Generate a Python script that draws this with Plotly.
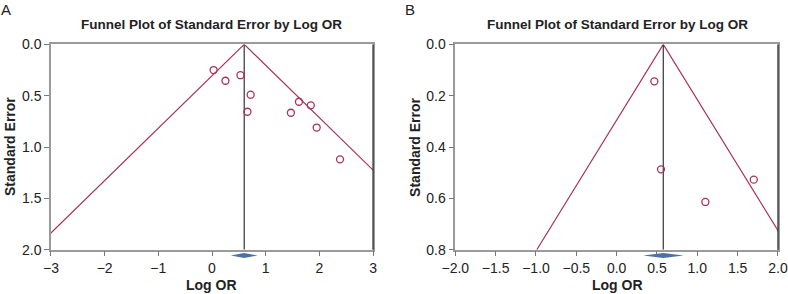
import plotly.graph_objects as go

# ---- data ----
A_logor = [0.03, 0.25, 0.53, 0.72, 0.66, 1.47, 1.62, 1.84, 1.95, 2.385]
A_se = [0.25, 0.354, 0.30, 0.49, 0.656, 0.666, 0.559, 0.594, 0.81, 1.12]
A_est = 0.60
A_ci = [0.35, 0.85]
A_xticks = [-3, -2, -1, 0, 1, 2, 3]
A_yticks = [0.0, 0.5, 1.0, 1.5, 2.0]

B_logor = [0.467, 0.55, 1.10, 1.70]
B_se = [0.144, 0.487, 0.614, 0.527]
B_est = 0.578
B_ci = [0.33, 0.83]
B_xticks = [-2.0, -1.5, -1.0, -0.5, 0.0, 0.5, 1.0, 1.5, 2.0]
B_yticks = [0.0, 0.2, 0.4, 0.6, 0.8]

MAROON = "#a8325a"
DIAMOND = "#4a72a8"
DARK = "#333333"
GRAY = "#9a9a9a"
FONT = "Liberation Sans"

fig = go.Figure()

panels = [
    ("x", "y", A_logor, A_se, A_est, A_ci, A_xticks, A_yticks, ".0f", [0.0647, 0.4734]),
    ("x2", "y2", B_logor, B_se, B_est, B_ci, B_xticks, B_yticks, ".1f", [0.5778, 0.9873]),
]

for xa, ya, lo, se, est, ci, xt, yt, xfmt, dom in panels:
    ymax = max(yt)
    # funnel
    fig.add_trace(go.Scatter(
        x=[est - 1.96 * ymax, est, est + 1.96 * ymax], y=[ymax, 0, ymax],
        mode="lines", line=dict(color=MAROON, width=1.2),
        xaxis=xa, yaxis=ya, showlegend=False, hoverinfo="skip"))
    # center line
    fig.add_trace(go.Scatter(
        x=[est, est], y=[0, ymax], mode="lines",
        line=dict(color=DARK, width=1.2),
        xaxis=xa, yaxis=ya, showlegend=False, hoverinfo="skip"))
    # studies
    fig.add_trace(go.Scatter(
        x=lo, y=se, mode="markers",
        marker=dict(symbol="circle-open", size=7, color=MAROON, line=dict(width=1.3, color=MAROON)),
        xaxis=xa, yaxis=ya, showlegend=False))
    # summary diamond below the axis
    yc, hh = -0.028, 0.012
    path = (f"M {ci[0]},{yc} L {est},{yc - hh} L {ci[1]},{yc} "
            f"L {est},{yc + hh} Z")
    fig.add_shape(type="path", path=path, xref=xa, yref=f"{ya} domain",
                  fillcolor=DIAMOND, line=dict(width=0), layer="above")
    # right frame line (dark)
    fig.add_shape(type="line", xref=f"{xa} domain", yref=f"{ya} domain",
                  x0=1, x1=1, y0=0, y1=1, line=dict(color=DARK, width=1.3))

axis_common = dict(showgrid=False, zeroline=False, showline=True, linecolor=GRAY,
                   linewidth=1.5, ticks="outside", ticklen=5, tickcolor="#777777",
                   tickwidth=1, automargin=False,
                   tickfont=dict(family=FONT, size=14, color="#222222"))

fig.update_layout(
    template="none",
    width=788, height=294, margin=dict(l=0, r=0, t=0, b=0, pad=0),
    paper_bgcolor="white", plot_bgcolor="white",
    xaxis=dict(domain=panels[0][9], range=[-3, 3], tickvals=A_xticks, tickformat=".0f",
               anchor="y", mirror=True, **axis_common),
    yaxis=dict(domain=[0.1507, 0.849], range=[2.0, 0.0], tickvals=A_yticks, tickformat=".1f",
               anchor="x", mirror=True, **axis_common),
    xaxis2=dict(domain=panels[1][9], range=[-2, 2], tickvals=B_xticks, tickformat=".1f",
                anchor="y2", mirror=True, **axis_common),
    yaxis2=dict(domain=[0.1507, 0.849], range=[0.8, 0.0], tickvals=B_yticks, tickformat=".1f",
                anchor="x2", mirror=True, **axis_common),
)

bold = dict(family=FONT, size=13.5, color="#222222")
ann = []
for letter, lx, cx, ylx in [("A", 0.008, 0.2690, 0.0127), ("B", 0.5203, 0.7830, 0.5265)]:
    ann.append(dict(text=letter, x=lx, y=0.966, xref="paper", yref="paper",
                    showarrow=False, xanchor="center", yanchor="middle",
                    font=dict(family=FONT, size=15, color="#222222")))
    ann.append(dict(text="<b>Funnel Plot of Standard Error by Log OR</b>", x=cx, y=0.915,
                    xref="paper", yref="paper", showarrow=False,
                    xanchor="center", yanchor="middle", font=bold))
    ann.append(dict(text="<b>Log OR</b>", x=cx, y=0.032, xref="paper", yref="paper",
                    showarrow=False, xanchor="center", yanchor="middle", font=dict(bold, size=14)))
    ann.append(dict(text="<b>Standard Error</b>", x=ylx, y=0.50, xref="paper", yref="paper",
                    showarrow=False, xanchor="center", yanchor="middle", textangle=-90,
                    font=dict(bold, size=14)))
fig.update_layout(annotations=ann)

fig.write_html("out.html", config={"displayModeBar": False},
               post_script="document.body.style.margin='0px';document.body.style.overflow='hidden';")
